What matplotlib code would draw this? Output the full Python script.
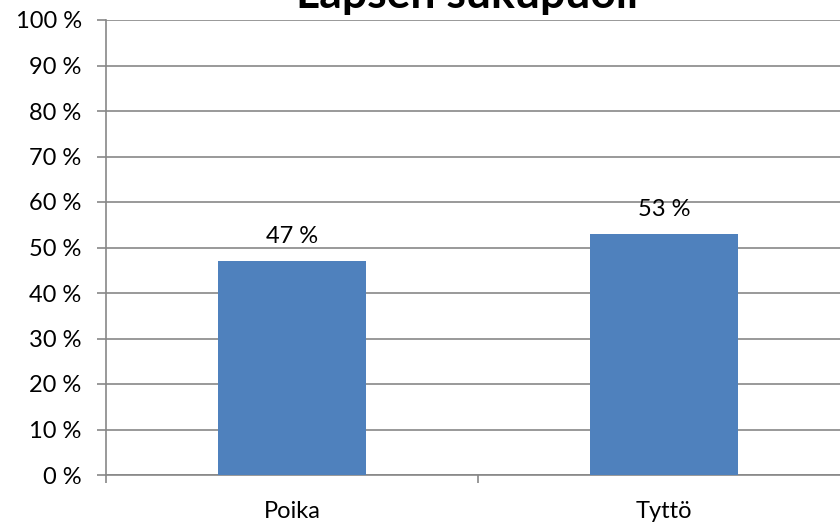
import matplotlib
matplotlib.use("Agg")
import matplotlib.pyplot as plt
import numpy as np

categories = ["Poika", "Tyttö"]
values = [47, 53]
yticks = [0, 10, 20, 30, 40, 50, 60, 70, 80, 90, 100]
title = "Lapsen sukupuoli"

plt.rcParams['font.family'] = ['Lato', 'DejaVu Sans']

fig = plt.figure(figsize=(8.4, 5.24), dpi=100)
ax = fig.add_axes([106/840, 1-475/524, (850-106)/840, (475-20)/524])

x = np.arange(len(categories))
bars = ax.bar(x, values, width=0.4, color="#4F81BD", zorder=3)

ax.set_xlim(-0.5, len(categories) - 0.5)
ax.set_ylim(0, 100)

grid_c = "#878787"
fs = 17
ax.set_yticks(yticks)
ax.set_yticklabels([f"{v} %" for v in yticks], fontsize=fs)
ax.yaxis.grid(True, color=grid_c, linewidth=1.2, zorder=0)
ax.tick_params(axis='y', length=6.5, color=grid_c, width=1.2, pad=11)

ax.set_xticks(x)
ax.set_xticklabels(categories, fontsize=fs)
ax.set_xticks(np.arange(-0.5, len(categories) + 0.5, 1), minor=True)
ax.tick_params(axis='x', which='major', length=0, pad=19)
ax.tick_params(axis='x', which='minor', length=6, color=grid_c, width=1.2)

for s in ["top", "right"]:
    ax.spines[s].set_visible(False)
for s in ["left", "bottom"]:
    ax.spines[s].set_color(grid_c)
    ax.spines[s].set_linewidth(1.2)

for b, v in zip(bars, values):
    ax.annotate(f"{v} %", (b.get_x() + b.get_width()/2, v), xytext=(0, 10),
                textcoords="offset points", ha="center", va="bottom", fontsize=fs)

fig.text(467/840, 1-8/524, title, ha="center", va="baseline", fontsize=32, fontweight="bold")

fig.savefig("out.png", dpi=100)
